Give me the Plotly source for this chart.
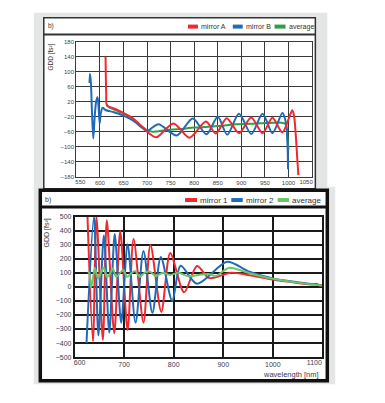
import plotly.graph_objects as go

# ---------------- data: top panel ----------------
top_x_ticks = [550, 600, 650, 700, 750, 800, 850, 900, 950, 1000, 1050]
top_y_ticks = [180, 140, 100, 60, 20, -20, -60, -100, -140, -180]

mirrorA_wl = [612, 613.5, 615, 630, 650, 670, 690, 705, 720, 756, 790, 825, 846, 869, 895, 921, 945, 966, 987, 1008, 1012, 1016, 1019, 1021]
mirrorA_gdd = [140, 40, 10, 2, -10, -24, -47, -65, -75, -38, -76, -33, -65, -24, -64, -22, -64, -23, -62, -3, -20, -80, -140, -176]

mirrorB_wl = [578, 579, 581, 583, 586, 589, 592, 595, 597, 599.5, 602, 606, 612, 630, 650, 670, 690, 700, 724, 763, 797, 826, 850, 870, 895, 921, 945, 966, 987, 995, 999]
mirrorB_gdd = [70, 95, 70, 0, -78, -20, 20, 32, 10, -38, -10, 4, -2, -8, -17, -30, -50, -58, -40, -70, -25, -67, -20, -68, -12, -66, -12, -64, -10, -40, -160]

avgT_wl = [614, 620, 640, 660, 680, 700, 712, 740, 770, 800, 830, 860, 890, 920, 950, 985, 994, 998, 1000]
avgT_gdd = [12, 5, -6, -18, -38, -56, -60, -56, -53, -49, -47, -44, -40, -39, -37, -36, -40, -80, -110]

# ---------------- data: bottom panel ----------------
bot_x_ticks = [600, 700, 800, 900, 1000, 1100]
bot_y_ticks = [500, 400, 300, 200, 100, 0, -100, -200, -300, -400, -500]

mirror1_wl = [626, 637, 644, 657, 665, 680, 692, 707, 719, 739, 753, 775, 793, 821, 847, 872, 915, 950, 1000, 1050, 1080, 1087, 1094, 1100]
mirror1_gdd = [500, -388, 500, -377, 474, -330, 395, -307, 340, -255, 300, -178, 241, -39, 148, 62, 100, 85, 52, 28, 16, 22, 10, 8]

mirror2_wl = [624, 639, 648, 659, 670, 681, 694, 707, 723, 739, 757, 774, 797, 814, 847, 908, 950, 1000, 1050, 1100]
mirror2_gdd = [-400, 500, -345, 365, -325, 375, -255, 303, -255, 255, -185, 213, -100, 150, 22, 178, 112, 60, 33, 12]

avgB_wl = [627, 630, 633, 637, 641, 647, 653, 659, 665, 671, 677, 684, 691, 698, 706, 714, 722, 731, 741, 752, 764, 778, 793, 810, 830, 850, 870, 885, 912, 950, 1000, 1050, 1100]
avgB_gdd = [110, 95, -5, 60, 135, 60, 100, 138, 70, 90, 130, 70, 95, 120, 72, 95, 112, 72, 100, 108, 78, 100, 85, 100, 75, 85, 92, 78, 135, 100, 57, 30, 10]

RED = "#ec2a30"
BLUE = "#1f6bb8"
GREEN_T = "#2f9e48"
GREEN_B = "#6cc46a"

W, H = 385, 403
def X(px):
    return px / W
def Y(py):
    return 1 - py / H

FONT = "Arial, Liberation Sans, sans-serif"

fig = go.Figure()

def add(x, y, color, xa, ya, width=2):
    fig.add_trace(go.Scatter(x=x, y=y, mode="lines", xaxis=xa, yaxis=ya,
                             line=dict(color=color, width=width, shape="spline", smoothing=0.8),
                             showlegend=False, hoverinfo="skip"))

add(avgT_wl, avgT_gdd, GREEN_T, "x", "y")
add(mirrorB_wl, mirrorB_gdd, BLUE, "x", "y")
add(mirrorA_wl, mirrorA_gdd, RED, "x", "y")

add(mirror1_wl, mirror1_gdd, RED, "x2", "y2")
add(mirror2_wl, mirror2_gdd, BLUE, "x2", "y2")
add(avgB_wl, avgB_gdd, GREEN_B, "x2", "y2")

# empty traces so the overlay axes carrying the end tick labels are drawn
for xa, ya in (("x3", "y"), ("x4", "y"), ("x5", "y2"), ("x6", "y2")):
    fig.add_trace(go.Scatter(x=[None], y=[None], xaxis=xa, yaxis=ya, showlegend=False, hoverinfo="skip"))

shapes = []
shapes.append(dict(type="rect", xref="paper", yref="paper", x0=X(33), x1=X(328), y0=Y(188), y1=Y(9),
                   fillcolor="#e4e6e5", line=dict(width=0), layer="below"))
shapes.append(dict(type="rect", xref="paper", yref="paper", x0=X(33), x1=X(336), y0=Y(387), y1=Y(186),
                   fillcolor="#e4e6e5", line=dict(width=0), layer="below"))
shapes.append(dict(type="rect", xref="paper", yref="paper", x0=X(43), x1=X(316), y0=Y(188), y1=Y(14),
                   fillcolor="white", line=dict(color="#333333", width=1.5), layer="below"))
shapes.append(dict(type="line", xref="paper", yref="paper", x0=X(43), x1=X(316), y0=Y(31), y1=Y(31),
                   line=dict(color="#333333", width=2), layer="below"))
shapes.append(dict(type="rect", xref="paper", yref="paper", x0=X(39.5), x1=X(328), y0=Y(383.5), y1=Y(189.5),
                   fillcolor="white", line=dict(color="#111111", width=3.5), layer="below"))
shapes.append(dict(type="line", xref="paper", yref="paper", x0=X(39.5), x1=X(328), y0=Y(206.5), y1=Y(206.5),
                   line=dict(color="#111111", width=3), layer="below"))

annotations = []
def legend_item(x0, x1, y, color, text, size):
    shapes.append(dict(type="line", xref="paper", yref="paper", x0=X(x0), x1=X(x1), y0=Y(y), y1=Y(y),
                       line=dict(color=color, width=4)))
    annotations.append(dict(text=text, xref="paper", yref="paper", x=X(x1 + 1), y=Y(y), xanchor="left",
                            yanchor="middle", showarrow=False, font=dict(size=size, color="#333333", family=FONT)))

legend_item(188, 198, 23, RED, "mirror A", 7)
legend_item(233, 243, 23, BLUE, "mirror B", 7)
legend_item(275, 286, 23, GREEN_T, "average", 7)

legend_item(185, 197, 199.5, RED, "mirror 1", 8)
legend_item(231.5, 243, 199.5, BLUE, "mirror 2", 8)
legend_item(278, 289.5, 199.5, GREEN_B, "average", 8)

annotations.append(dict(text="b)", xref="paper", yref="paper", x=X(45), y=Y(22.5), xanchor="left", yanchor="middle",
                        showarrow=False, font=dict(size=6.5, color="#333333", family=FONT)))
annotations.append(dict(text="b)", xref="paper", yref="paper", x=X(42), y=Y(199), xanchor="left", yanchor="middle",
                        showarrow=False, font=dict(size=7, color="#333333", family=FONT)))
annotations.append(dict(text="GDD [fs²]", xref="paper", yref="paper", x=X(50), y=Y(38), xanchor="center", yanchor="top",
                        textangle=-90, showarrow=False, font=dict(size=6.5, color="#333333", family=FONT)))
annotations.append(dict(text="GDD [fs²]", xref="paper", yref="paper", x=X(46), y=Y(216), xanchor="center", yanchor="top",
                        textangle=-90, showarrow=False, font=dict(size=7, color="#333333", family=FONT)))
annotations.append(dict(text="wavelength [nm]", xref="paper", yref="paper", x=X(322), y=Y(377), xanchor="right", yanchor="middle",
                        showarrow=False, font=dict(size=7.5, color="#3a3a50", family=FONT)))

axis_common = dict(zeroline=False, ticks="", fixedrange=True)
top_font = dict(size=6, color="#444444", family=FONT)
bot_font = dict(size=7, color="#3a3a50", family=FONT)
top_dom_x = [X(75.7), X(312.7)]
bot_dom_x = [X(74), X(323)]

def overlay(base, anchor, dom, rng, vals, shift, font):
    return dict(overlaying=base, anchor=anchor, domain=dom, range=rng, tickvals=vals, showgrid=False,
                showline=False, ticklabelshift=shift, tickfont=font, side="bottom", **axis_common)

fig.update_layout(
    width=W, height=H,
    margin=dict(l=0, r=0, t=0, b=0),
    paper_bgcolor="white",
    plot_bgcolor="rgba(0,0,0,0)",
    shapes=shapes,
    annotations=annotations,
    xaxis=dict(domain=top_dom_x, range=[550, 1050], tickvals=top_x_ticks[1:-1], anchor="y",
               showgrid=True, showline=True, mirror=True,
               gridcolor="#3a3a3a", gridwidth=1.2, linecolor="#3a3a3a", linewidth=1.2,
               tickfont=top_font, **axis_common),
    xaxis3=overlay("x", "y", top_dom_x, [550, 1050], top_x_ticks[:1], 4, top_font),
    xaxis4=overlay("x", "y", top_dom_x, [550, 1050], top_x_ticks[-1:], -6, top_font),
    yaxis=dict(domain=[Y(175.7), Y(38.5)], range=[-180, 180], tickvals=top_y_ticks, anchor="x",
               showgrid=True, showline=True, mirror=True,
               gridcolor="#3a3a3a", gridwidth=1.2, linecolor="#3a3a3a", linewidth=1.2,
               tickfont=top_font, **axis_common),
    xaxis2=dict(domain=bot_dom_x, range=[600, 1100], tickvals=bot_x_ticks[1:-1], anchor="y2",
                showgrid=True, showline=True, mirror=True,
                gridcolor="#1a1a1a", gridwidth=1.5, linecolor="#1a1a1a", linewidth=1.5,
                tickfont=bot_font, **axis_common),
    xaxis5=overlay("x2", "y2", bot_dom_x, [600, 1100], bot_x_ticks[:1], 5, bot_font),
    xaxis6=overlay("x2", "y2", bot_dom_x, [600, 1100], bot_x_ticks[-1:], -8, bot_font),
    yaxis2=dict(domain=[Y(359.4), Y(216.3)], range=[-500, 500], tickvals=bot_y_ticks, anchor="x2",
                showgrid=True, showline=True, mirror=True,
                gridcolor="#1a1a1a", gridwidth=1.5, linecolor="#1a1a1a", linewidth=1.5,
                tickfont=bot_font, **axis_common),
)

fig.write_html("out.html", config={"displayModeBar": False},
               post_script="document.body.style.margin='0';document.body.style.overflow='hidden';")
